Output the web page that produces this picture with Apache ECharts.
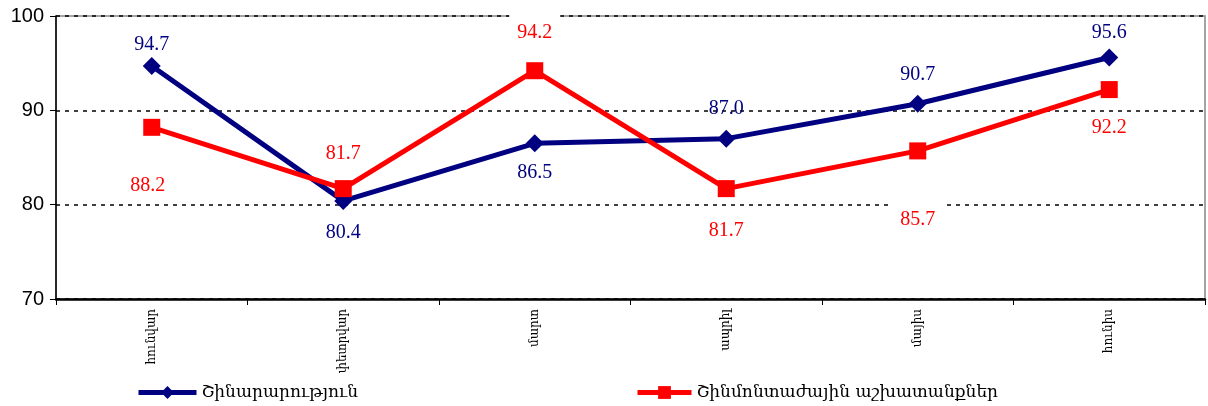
<!DOCTYPE html>
<html>
<head>
<meta charset="utf-8">
<script src="https://cdn.jsdelivr.net/npm/echarts@6/dist/echarts.min.js"></script>
<style>html,body{margin:0;padding:0;background:#fff}#c{width:1208px;height:406px}</style>
</head>
<body>
<div id="c"></div>
<script>
var categories = ['հունվար', 'փետրվար', 'մարտ', 'ապրիլ', 'մայիս', 'հունիս'];
var seriesNames = ['Շինարարություն', 'Շինմոնտաժային աշխատանքներ'];
var construction = [94.7, 80.4, 86.5, 87.0, 90.7, 95.6];
var installation = [88.2, 81.7, 94.2, 81.7, 85.7, 92.2];
var yTicks = [70, 80, 90, 100];

// label offsets (layout only)
var constructionLabelOffsets = [[0,-21],[0,32],[0,29],[0,-30],[0,-29],[0,-25]];
var installationLabelOffsets = [[-4,58],[0,-35],[0,-38],[0,42],[0,69],[0,38]];
var installationLabelBg = [false, false, true, false, true, false];

function mkData(vals, offs, bg) {
  return vals.map(function (v, i) {
    return {
      value: v,
      label: {
        offset: offs[i],
        backgroundColor: (bg && bg[i]) ? '#fff' : 'transparent',
        padding: (bg && bg[i]) ? [16, 8, 2, 8] : 0
      }
    };
  });
}

var labelBase = {
  show: true, position: 'inside', fontFamily: 'Liberation Serif', fontSize: 20,
  formatter: function (p) { return p.value.toFixed(1); }
};

var chart = echarts.init(document.getElementById('c'), null, {renderer: 'canvas'});
chart.setOption({
  animation: false,
  backgroundColor: '#fff',
  grid: {left: 56, right: 3, top: 16, bottom: 107, show: true, borderColor: '#888', borderWidth: 1.5, backgroundColor: 'transparent'},
  legend: [
    {data: [seriesNames[0]], left: 131, top: 379, itemWidth: 58, itemHeight: 16, itemGap: 0,
     lineStyle: {width: 5}, textStyle: {fontFamily: 'DejaVu Serif', fontSize: 17, color: '#000'}},
    {data: [seriesNames[1]], left: 630, top: 379, itemWidth: 54, itemHeight: 16, itemGap: 0,
     lineStyle: {width: 5}, textStyle: {fontFamily: 'DejaVu Serif', fontSize: 17, color: '#000'}}
  ],
  xAxis: {
    type: 'category', data: categories, boundaryGap: true,
    axisLine: {lineStyle: {color: '#000', width: 2.5}},
    axisTick: {show: true, alignWithLabel: false, length: 6, inside: false, lineStyle: {color: '#000', width: 1}},
    axisLabel: {rotate: 90, fontFamily: 'DejaVu Serif', fontSize: 12, color: '#000', margin: 10}
  },
  yAxis: {
    type: 'value', min: yTicks[0], max: yTicks[yTicks.length - 1], interval: 10,
    axisLine: {show: true, lineStyle: {color: '#000', width: 1.5}},
    axisTick: {show: true, length: 6, lineStyle: {color: '#000', width: 1}},
    axisLabel: {fontFamily: 'Liberation Sans', fontSize: 20, color: '#000', margin: 12},
    splitLine: {show: true, lineStyle: {color: '#000', width: 1.5, type: [4, 5]}}
  },
  series: [
    {
      name: seriesNames[0], type: 'line', data: mkData(construction, constructionLabelOffsets, null),
      color: '#000080', symbol: 'diamond', symbolSize: 18,
      lineStyle: {width: 5, color: '#000080'}, itemStyle: {color: '#000080'},
      label: Object.assign({}, labelBase, {color: '#000080'}), z: 3
    },
    {
      name: seriesNames[1], type: 'line', data: mkData(installation, installationLabelOffsets, installationLabelBg),
      color: '#ff0000', symbol: 'rect', symbolSize: 17,
      lineStyle: {width: 5, color: '#ff0000'}, itemStyle: {color: '#ff0000'},
      label: Object.assign({}, labelBase, {color: '#ff0000'}), z: 4
    }
  ]
});
</script>
</body>
</html>
